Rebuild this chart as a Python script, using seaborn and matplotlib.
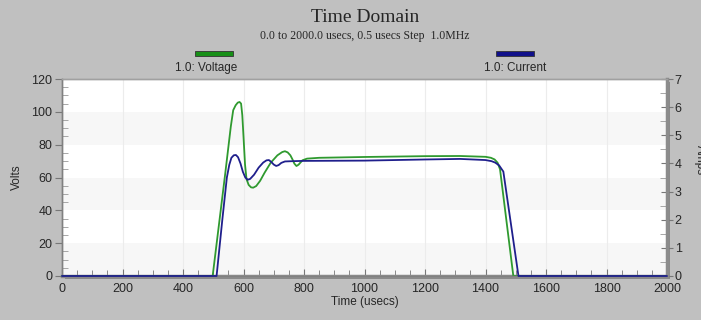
import matplotlib

matplotlib.use("Agg")

import matplotlib.pyplot as plt
from matplotlib.patches import Rectangle
from matplotlib.ticker import MultipleLocator
import pandas as pd
import seaborn as sns

# time (usecs) / volts
volt_t = [0, 498, 520, 540, 558, 566, 574, 581, 587, 592, 596, 600, 605, 610,
          617, 625, 632, 642, 655, 670, 690, 712, 728, 737, 746, 755, 762, 768,
          775, 782, 795, 810, 850, 1000, 1200, 1316, 1400, 1418, 1430, 1440,
          1448, 1492, 2000]
volt_v = [0, 0, 33, 63, 91, 101, 104, 105.6, 106, 105, 98, 85, 68, 59,
          55.5, 54, 53.8, 54.8, 58, 63, 69, 73.5, 75.5, 76, 75.3, 73.5, 71, 68.5,
          67, 67.8, 70.5, 71.5, 72, 72.5, 73, 73.1, 72.6, 72, 71, 69,
          65, 0, 0]

# time (usecs) / amps
curr_t = [0, 511, 530, 545, 553, 560, 568, 575, 582, 590, 598, 606, 614, 622,
          635, 650, 665, 676, 684, 692, 700, 708, 716, 725, 737, 760, 800, 1000,
          1200, 1316, 1400, 1420, 1432, 1445, 1459, 1509, 2000]
curr_a = [0, 0, 2.0, 3.5, 3.95, 4.2, 4.29, 4.3, 4.22, 4.0, 3.7, 3.5, 3.42, 3.45,
          3.6, 3.85, 4.03, 4.11, 4.12, 4.05, 3.96, 3.91, 3.94, 4.02, 4.07, 4.08, 4.09, 4.10,
          4.14, 4.16, 4.12, 4.08, 4.03, 3.93, 3.71, 0, 0]

GREEN = "#2f9a2f"
BLUE = "#1f1f8c"
BG = "#c0c0c0"

sns.set_style("ticks")
plt.rcParams["font.family"] = ["Liberation Sans", "DejaVu Sans"]

fig = plt.figure(figsize=(7.01, 3.2), dpi=100, facecolor=BG)
ax = fig.add_axes([62 / 701, 44 / 320, 605 / 701, 197 / 320])
ax.set_facecolor("white")

# drop shadow behind the plot area
fig.patches.append(Rectangle((65 / 701, 41 / 320), 605 / 701, 197 / 320,
                             transform=fig.transFigure, facecolor="#8a8a8a",
                             edgecolor="none", zorder=-1))

for lo in (0, 40, 80):
    ax.axhspan(lo, lo + 20, color="#f7f7f7", zorder=0, lw=0)
for x in range(200, 2000, 200):
    ax.axvline(x, color="#ececec", lw=0.8, zorder=0.5)

vdf = pd.DataFrame({"t": volt_t, "v": volt_v})
cdf = pd.DataFrame({"t": curr_t, "a": curr_a})

sns.lineplot(data=vdf, x="t", y="v", color=GREEN, lw=1.3, ax=ax, zorder=3)
ax.set_xlim(0, 2000)
ax.set_ylim(0, 120)
ax.set_xlabel("Time (usecs)", fontsize=8.5, labelpad=1)
ax.set_ylabel("Volts", fontsize=8.5, labelpad=6)
ax.xaxis.set_major_locator(MultipleLocator(200))
ax.xaxis.set_minor_locator(MultipleLocator(50))
ax.yaxis.set_major_locator(MultipleLocator(20))
ax.yaxis.set_minor_locator(MultipleLocator(5))
ax.tick_params(axis="x", which="major", direction="in", length=5, color="#777777",
               labelsize=9, pad=5)
ax.tick_params(axis="x", which="minor", direction="in", length=4, color="#777777")
ax.tick_params(axis="y", which="major", direction="out", length=5, color="#777777",
               labelsize=9, pad=2)
ax.tick_params(axis="y", which="minor", direction="in", length=4, color="#999999")

ax2 = ax.twinx()
sns.lineplot(data=cdf, x="t", y="a", color=BLUE, lw=1.3, ax=ax2, zorder=3)
ax2.set_ylim(0, 7)
ax2.set_xlim(0, 2000)
ax2.set_ylabel("")
ax2.yaxis.set_major_locator(MultipleLocator(1))
ax2.yaxis.set_minor_locator(MultipleLocator(0.5))
ax2.tick_params(axis="y", which="major", direction="inout", length=9, color="#777777",
                labelsize=9, pad=1)
ax2.tick_params(axis="y", which="minor", direction="in", length=5, color="#999999")

for a in (ax, ax2):
    for s in a.spines.values():
        s.set_color("#808080")
        s.set_linewidth(1.0)
    a.spines["top"].set_color("#a0a0a0")
    for ln in a.lines:
        ln.set_clip_on(False)
ax2.spines["right"].set_linewidth(2.5)
ax2.spines["right"].set_color("#8c8c8c")
ax.spines["bottom"].set_linewidth(2.5)
ax.spines["bottom"].set_color("#8c8c8c")

# titles
fig.text(365 / 701, 1 - 18 / 320, "Time Domain", ha="center", va="center",
         fontsize=14, family="Liberation Serif")
fig.text(365 / 701, 1 - 36 / 320, "0.0 to 2000.0 usecs, 0.5 usecs Step  1.0MHz",
         ha="center", va="center", fontsize=8.5, family="Liberation Serif")

# legend
for cx, col, lab in ((214, "#178f17", "1.0: Voltage"), (515, "#10108a", "1.0: Current")):
    fig.patches.append(Rectangle(((cx - 19) / 701, 1 - 56 / 320), 38 / 701, 5 / 320,
                                 transform=fig.transFigure, facecolor=col,
                                 edgecolor="#333333", lw=0.6))
    fig.text((cx - 8) / 701 if cx < 300 else cx / 701, 1 - 68 / 320, lab,
             ha="center", va="center", fontsize=8.5)

# right axis title sits partly past the figure edge, as in the source
fig.text(694 / 701, 0.5, "Amps", rotation=-90, ha="left", va="center", fontsize=8.5)

fig.savefig("out.png", dpi=100, facecolor=BG)
